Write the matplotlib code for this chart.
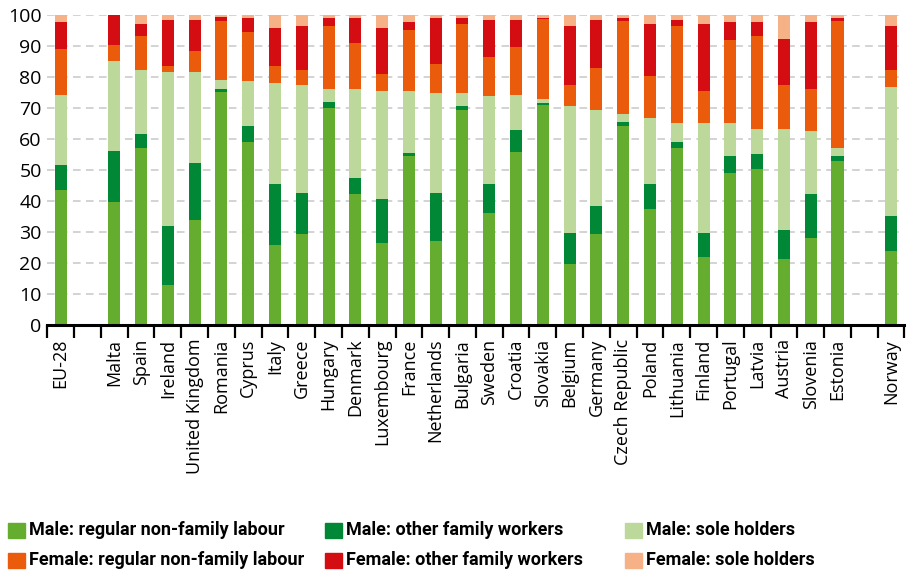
import numpy as np
import matplotlib.pyplot as plt
from matplotlib.patches import Rectangle

# Countries in display order (None = empty gap slot)
countries = ['EU-28', None, 'Malta', 'Spain', 'Ireland', 'United Kingdom', 'Romania', 'Cyprus',
             'Italy', 'Greece', 'Hungary', 'Denmark', 'Luxembourg', 'France', 'Netherlands',
             'Bulgaria', 'Sweden', 'Croatia', 'Slovakia', 'Belgium', 'Germany', 'Czech Republic',
             'Poland', 'Lithuania', 'Finland', 'Portugal', 'Latvia', 'Austria', 'Slovenia',
             'Estonia', None, 'Norway']

# Shares (%) per category, one value per real country (gaps skipped)
male_regular = [43.6, 39.5, 57.2, 13.0, 33.9, 75.0, 59.1, 25.8, 29.3, 69.9, 42.2, 26.5, 54.4, 27.2,
                69.3, 36.0, 55.7, 70.8, 19.6, 29.3, 64.1, 37.4, 57.2, 21.8, 49.0, 50.4, 21.1, 28.0,
                53.0, 23.8]
male_family = [8.0, 16.7, 4.5, 18.8, 18.2, 1.2, 5.2, 19.6, 13.4, 2.0, 5.3, 14.1, 1.2, 15.4,
               1.2, 9.4, 7.3, 0.7, 10.1, 9.2, 1.2, 8.1, 1.8, 7.9, 5.4, 4.6, 9.4, 14.1,
               1.4, 11.3]
male_sole = [22.5, 28.8, 20.5, 49.7, 29.4, 2.9, 14.5, 32.6, 34.7, 4.1, 28.6, 34.8, 19.8, 32.1,
             4.2, 28.5, 11.1, 1.4, 40.9, 30.8, 2.8, 21.1, 6.2, 35.5, 10.8, 8.1, 32.6, 20.4,
             2.8, 41.5]
female_regular = [14.9, 5.4, 11.0, 2.1, 6.8, 18.8, 15.7, 5.6, 4.8, 20.4, 14.9, 5.5, 19.7, 9.6,
                  22.4, 12.5, 15.5, 25.7, 6.8, 13.5, 29.8, 13.6, 31.2, 10.3, 26.6, 30.1, 14.3, 13.6,
                  40.7, 5.6]
female_family = [8.7, 9.6, 4.0, 14.8, 10.1, 1.3, 4.6, 12.1, 14.2, 2.7, 8.1, 14.8, 2.6, 14.8,
                 2.0, 12.0, 8.8, 0.5, 19.0, 15.6, 1.2, 16.9, 2.0, 21.6, 5.9, 4.5, 14.8, 21.6,
                 1.2, 14.2]
female_sole = [2.3, 0.0, 2.8, 1.6, 1.6, 0.8, 0.9, 4.3, 3.6, 0.9, 0.9, 4.3, 2.3, 0.9,
               0.9, 1.6, 1.6, 0.9, 3.6, 1.6, 0.9, 2.9, 1.6, 2.9, 2.3, 2.3, 7.8, 2.3,
               0.9, 3.6]

series = [
    ('Male: regular non-family labour', male_regular, '#65ad2f'),
    ('Male: other family workers', male_family, '#008837'),
    ('Male: sole holders', male_sole, '#bcd89a'),
    ('Female: regular non-family labour', female_regular, '#ea5b0c'),
    ('Female: other family workers', female_family, '#d40d12'),
    ('Female: sole holders', female_sole, '#f7b186'),
]

plt.rcParams['font.family'] = ['Open Sans', 'DejaVu Sans']

pos = np.array([i for i, c in enumerate(countries) if c is not None])
labels = [c for c in countries if c is not None]

W, H = 909, 572
fig = plt.figure(figsize=(W / 100, H / 100), dpi=100)
ax = fig.add_axes([0.052, 0.432, 0.943, 0.542])

bottom = np.zeros(len(pos))
for name, vals, col in series:
    vals = np.array(vals)
    ax.bar(pos, vals, width=0.45, bottom=bottom, color=col, label=name, zorder=3)
    bottom += vals

ax.set_xlim(-0.5, len(countries) - 0.5)
ax.set_ylim(0, 100)
ax.set_yticks(range(0, 101, 10))
ax.tick_params(axis='y', length=0, labelsize=14, pad=4)
ax.yaxis.grid(True, color='#c8c8c8', linestyle=(0, (5, 3.5)), linewidth=1.1, zorder=0)

# boundary ticks (marks only) and centred labels
ax.set_xticks(np.arange(-0.5, len(countries), 1.0))
ax.set_xticklabels([])
ax.tick_params(axis='x', which='major', length=9, width=1.6, direction='out', color='black')
ax.set_xticks(pos, minor=True)
ax.set_xticklabels(labels, minor=True, rotation=90, fontsize=13)
ax.tick_params(axis='x', which='minor', length=0, pad=10)

for s in ['top', 'right', 'left']:
    ax.spines[s].set_visible(False)
ax.spines['bottom'].set_linewidth(2.2)
ax.spines['bottom'].set_zorder(4)

# legend: row 1 male, row 2 female
col_x = [8, 325, 625]
row_y = [530, 560]
for k, (name, _, col) in enumerate(series):
    x0 = col_x[k % 3]
    yc = row_y[k // 3]
    fig.add_artist(Rectangle((x0 / W, 1 - (yc + 7.5) / H), 17 / W, 15 / H,
                             transform=fig.transFigure, color=col))
    fig.text((x0 + 21) / W, 1 - yc / H, name, family=['Roboto', 'DejaVu Sans'],
             weight='bold', fontsize=13, va='center', ha='left')

plt.savefig('out.png', dpi=100)
